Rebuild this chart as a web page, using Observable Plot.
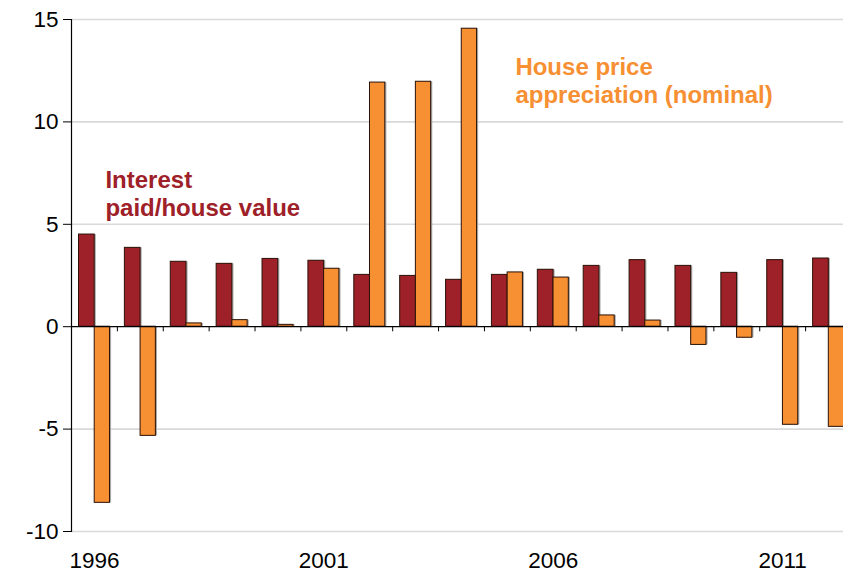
<!DOCTYPE html>
<html>
<head>
<meta charset="utf-8">
<script src="https://cdn.jsdelivr.net/npm/d3@7"></script>
<script src="https://cdn.jsdelivr.net/npm/@observablehq/plot@0.6"></script>
<style>
  html, body { margin: 0; padding: 0; background: #fff; }
  #chart { width: 843px; height: 573px; overflow: hidden; }
  #chart svg { display: block; max-width: none !important; width: 851px !important; height: 573px !important; }
</style>
</head>
<body>
<div id="chart"></div>
<script>
// ---- data ----
const years = [1996, 1997, 1998, 1999, 2000, 2001, 2002, 2003, 2004, 2005, 2006, 2007, 2008, 2009, 2010, 2011, 2012];
const interestPaid = [4.50, 3.85, 3.17, 3.07, 3.31, 3.22, 2.53, 2.48, 2.29, 2.53, 2.78, 2.97, 3.25, 2.97, 2.63, 3.25, 3.33];
const priceAppreciation = [-8.60, -5.33, 0.16, 0.32, 0.09, 2.83, 11.92, 11.96, 14.55, 2.65, 2.40, 0.55, 0.30, -0.89, -0.54, -4.79, -4.89];
const yTicks = [-10, -5, 0, 5, 10, 15];
const xTickLabels = [1996, 2001, 2006, 2011];
const interestLabel = "Interest\npaid/house value";
const appreciationLabel = "House price\nappreciation (nominal)";

// ---- build table ----
const rows = years.map((y, i) => ({year: y, interest: interestPaid[i], appreciation: priceAppreciation[i]}));

const RED = "#9e2028";
const ORANGE = "#f78f33";
const W = 851, H = 573, ML = 71;
const bw = (W - ML) / years.length;

const chart = Plot.plot({
  width: W,
  height: H,
  marginLeft: ML,
  marginRight: 0,
  marginTop: 19,
  marginBottom: 42,
  style: {fontFamily: "'Liberation Sans', Arial, Helvetica, sans-serif", color: "#000", background: "#fff"},
  x: {type: "band", domain: years, paddingInner: 0, paddingOuter: 0, round: false, axis: null, label: null},
  y: {domain: [-10, 15], axis: null, label: null},
  marks: [
    Plot.ruleY(yTicks.filter(d => d !== 0), {stroke: "#d9d9d9", strokeWidth: 1.6}),
    // shadows
    Plot.barY(rows, {x: "year", y: "interest", fill: "#a8a8a8", insetLeft: 7.5, insetRight: bw - 23.2, dx: 1.6}),
    Plot.barY(rows, {x: "year", y: "appreciation", fill: "#a8a8a8", insetLeft: 23.2, insetRight: 7.4, dx: 1.6}),
    // bars
    Plot.barY(rows, {x: "year", y: "interest", fill: RED, stroke: "#2b1208", strokeWidth: 1, insetLeft: 7.5, insetRight: bw - 23.2}),
    Plot.barY(rows, {x: "year", y: "appreciation", fill: ORANGE, stroke: "#2b1208", strokeWidth: 1, insetLeft: 23.2, insetRight: 7.4}),
    // zero line and category ticks
    Plot.ruleY([0], {stroke: "#000", strokeWidth: 1.2}),
    Plot.ruleX(years.slice(0, -1), {x: d => d, y1: 0, y2: -0.25, dx: bw / 2, stroke: "#000", strokeWidth: 1}),
    // y axis
    Plot.frame({anchor: "left", stroke: "#000", strokeWidth: 1.2}),
    Plot.axisY(yTicks, {tickSize: 8, tickPadding: 5, fontSize: 22.5, tickFormat: d => String(d), stroke: "#000", label: null}),
    Plot.axisX(xTickLabels, {anchor: "bottom", tickSize: 0, tickPadding: 21, fontSize: 22.5, tickFormat: d => String(d), label: null}),
    // series labels
    Plot.text([interestLabel], {
      x: [1996], y: [7.71], text: d => d, dx: 11,
      textAnchor: "start", lineAnchor: "top", lineHeight: 1.15,
      fontSize: 24, fontWeight: "bold", fill: RED
    }),
    Plot.text([appreciationLabel], {
      x: [2005], y: [13.28], text: d => d, dx: 8,
      textAnchor: "start", lineAnchor: "top", lineHeight: 1.18,
      fontSize: 24, fontWeight: "bold", fill: ORANGE
    })
  ]
});

document.getElementById("chart").appendChild(chart);
</script>
</body>
</html>
